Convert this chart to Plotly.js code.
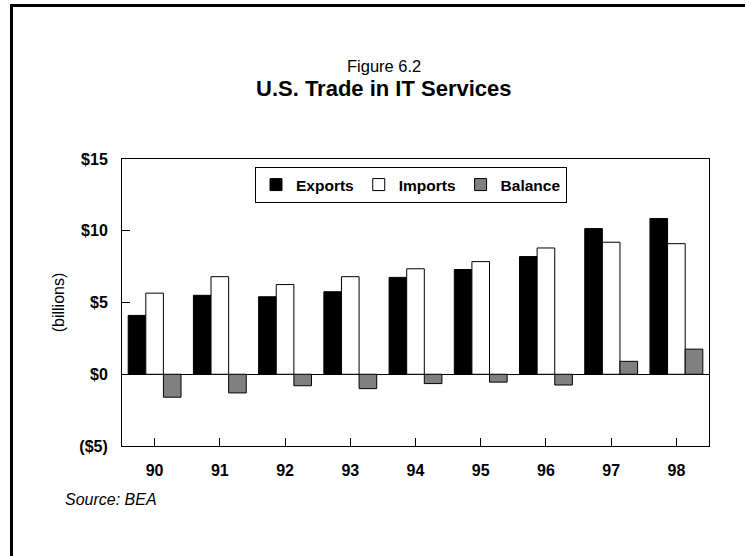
<!DOCTYPE html>
<html>
<head>
<meta charset="utf-8">
<script src="https://cdn.plot.ly/plotly-3.0.1.min.js"></script>
<style>
  html, body { margin: 0; padding: 0; background: #fff; }
  #wrap { position: relative; width: 745px; height: 556px; overflow: hidden; }
  #chart { position: absolute; left: 0; top: 0; width: 745px; height: 556px; }
  #frame { position: absolute; left: 10px; top: 4px; width: 800px; height: 600px;
           border-top: 3px solid #000; border-left: 3px solid #000; pointer-events: none; }
</style>
</head>
<body>
<div id="wrap">
  <div id="chart"></div>
  <div id="frame"></div>
</div>
<script>
const years = ["90", "91", "92", "93", "94", "95", "96", "97", "98"];
const exportsVals = [4.1, 5.5, 5.4, 5.75, 6.75, 7.3, 8.2, 10.15, 10.85];
const importsVals = [5.65, 6.8, 6.25, 6.8, 7.35, 7.85, 8.8, 9.2, 9.1];
const balanceVals = [-1.6, -1.3, -0.8, -1.0, -0.65, -0.55, -0.75, 0.9, 1.75];
const yTickVals = [-5, 0, 5, 10, 15];
const yTickText = ["($5)", "$0", "$5", "$10", "$15"];

const FONT = "Arial, 'Liberation Sans', sans-serif";

const traces = [
  { type: "bar", name: "Exports", x: years, y: exportsVals,
    marker: { color: "#000000", line: { color: "#000000", width: 1 } } },
  { type: "bar", name: "Imports", x: years, y: importsVals,
    marker: { color: "#ffffff", line: { color: "#000000", width: 1 } } },
  { type: "bar", name: "Balance", x: years, y: balanceVals,
    marker: { color: "#808080", line: { color: "#000000", width: 1 } } }
];

const layout = {
  width: 745, height: 556,
  margin: { l: 122, r: 36, t: 159, b: 110 },
  paper_bgcolor: "#ffffff", plot_bgcolor: "#ffffff",
  font: { family: FONT, size: 16, color: "#000" },
  barmode: "group", bargap: 0.19, bargroupgap: 0,
  showlegend: true,
  legend: {
    orientation: "h", x: (255 - 122) / 587, y: (446 - 167) / 287, xanchor: "left", yanchor: "top",
    bordercolor: "#000", borderwidth: 1, bgcolor: "#fff",
    font: { family: FONT, size: 15.5, color: "#000", weight: "bold" },
    traceorder: "normal"
  },
  xaxis: {
    type: "category", range: [-0.5, 8.5],
    showline: true, linecolor: "#000", linewidth: 1, mirror: true,
    ticks: "inside", ticklen: 8, tickcolor: "#000",
    tickfont: { family: FONT, size: 16, weight: "bold" },
    ticklabelstandoff: 10,
    showgrid: false, zeroline: false, fixedrange: true
  },
  yaxis: {
    range: [-5, 15], tickvals: yTickVals, ticktext: yTickText,
    showline: true, linecolor: "#000", linewidth: 1, mirror: true,
    ticks: "inside", ticklen: 8, tickcolor: "#000",
    tickfont: { family: FONT, size: 16, weight: "bold" },
    ticklabelstandoff: 10,
    showgrid: false, zeroline: true, zerolinecolor: "#000", zerolinewidth: 1,
    title: { text: "(billions)", font: { family: FONT, size: 16 }, standoff: 10 },
    fixedrange: true
  },
  annotations: [
    { text: "Figure 6.2", xref: "paper", yref: "paper", x: (384 - 122) / 587, y: (446 - 66) / 287,
      xanchor: "center", yanchor: "middle", showarrow: false,
      font: { family: FONT, size: 16.5 } },
    { text: "<b>U.S. Trade in IT Services</b>", xref: "paper", yref: "paper", x: (384 - 122) / 587, y: (446 - 88) / 287,
      xanchor: "center", yanchor: "middle", showarrow: false,
      font: { family: FONT, size: 22 } },
    { text: "<i>Source: BEA</i>", xref: "paper", yref: "paper", x: (63 - 122) / 587, y: (446 - 499) / 287,
      xanchor: "left", yanchor: "middle", showarrow: false,
      font: { family: FONT, size: 16 } }
  ]
};

Plotly.newPlot("chart", traces, layout, { staticPlot: true, displayModeBar: false });
</script>
</body>
</html>
